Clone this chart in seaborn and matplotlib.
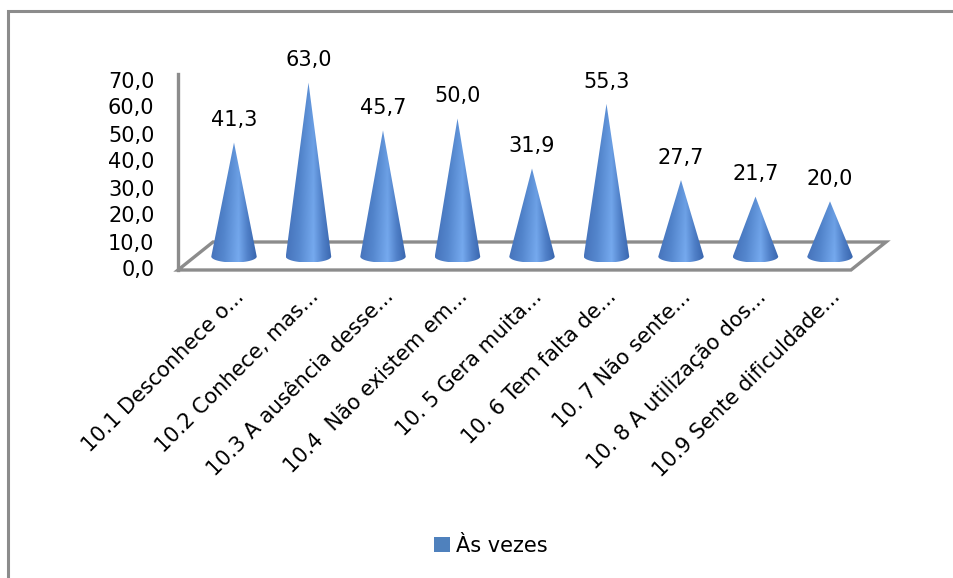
import numpy as np
import matplotlib
matplotlib.use("Agg")
import matplotlib.pyplot as plt
from matplotlib.colors import LinearSegmentedColormap
from matplotlib.patches import Polygon, Rectangle, Patch
import seaborn as sns
import pandas as pd

# ---- data -------------------------------------------------------------
categories = [
    "10.1 Desconhece o...",
    "10.2 Conhece, mas...",
    "10.3 A ausência desse...",
    "10.4  Não existem em...",
    "10. 5 Gera muita...",
    "10. 6 Tem falta de...",
    "10. 7 Não sente...",
    "10. 8 A utilização dos...",
    "10.9 Sente dificuldade...",
]
values = [41.3, 63.0, 45.7, 50.0, 31.9, 55.3, 27.7, 21.7, 20.0]
series_name = "Às vezes"
y_ticks = [0, 10, 20, 30, 40, 50, 60, 70]

# ---- figure / theme ---------------------------------------------------
sns.set_theme(style="white")
plt.rcParams["font.family"] = ["DejaVu Sans"]
plt.rcParams["text.color"] = "black"
plt.rcParams["xtick.color"] = "black"
plt.rcParams["ytick.color"] = "black"
FS = 15

W, H = 954, 578
fig = plt.figure(figsize=(W / 100, H / 100), dpi=100)

# plot box in pixels (from top-left)
L, R, T, B = 158, 900, 60, 285
ax = fig.add_axes([L / W, 1 - B / H, (R - L) / W, (B - T) / H])

# pixel scale of the pseudo-3D layout
X0, DX = 234.0, 74.5      # first category centre, spacing (px)
Y0, DY = 256.5, 2.76      # cone base line, px per unit
DEPTH_X, DEPTH_Y = 35.0, 28.0   # floor depth offset (px)

df = pd.DataFrame({"cat": categories, "val": values})
sns.barplot(data=df, x="cat", y="val", color="#4f81bd", width=0.61,
            ax=ax, zorder=3)

ax.set_xlim((L - X0) / DX, (R - X0) / DX)
ax.set_ylim((Y0 - B) / DY, (Y0 - T) / DY)
ax.set_xlabel("")
ax.set_ylabel("")

# ---- floor of the 3D plot --------------------------------------------
front_y = (Y0 - 270) / DY
back_y = front_y + DEPTH_Y / DY
front_left = (178 - X0) / DX
back_left = front_left + DEPTH_X / DX
front_right = (851 - X0) / DX
back_right = front_right + DEPTH_X / DX
floor = Polygon([(front_left, front_y), (back_left, back_y),
                 (back_right, back_y), (front_right, front_y)],
                closed=True, fill=False, edgecolor="#8c8c8c", lw=2.4,
                zorder=1, joinstyle="miter")

# ---- cones built from the bar geometry -------------------------------
cone_cmap = LinearSegmentedColormap.from_list(
    "cone", [(0.0, "#3865ad"), (0.28, "#4779c0"), (0.6, "#679be0"),
             (0.8, "#4373bb"), (1.0, "#2a579f")])
ell_h = 6.0 / DY
xs = np.linspace(0, 1, 200)
grad = np.tile(xs, (60, 1))
vert = np.linspace(0, 1, 60)[:, None, None]
bars = list(ax.patches)
ax.add_patch(floor)
for bar in bars:
    cx = bar.get_x() + bar.get_width() / 2
    hw = bar.get_width() / 2
    v = bar.get_height()
    bar.remove()
    t = np.linspace(np.pi, 2 * np.pi, 60)
    arc = np.column_stack([cx + hw * np.cos(t), ell_h * np.sin(t)])
    pts = np.vstack([[cx, v], arc])
    clip = Polygon(pts, closed=True, transform=ax.transData)
    img = cone_cmap(grad)
    # slightly lighter toward the base rim
    img[..., :3] = np.clip(img[..., :3] + 0.06 * vert, 0, 1)
    im = ax.imshow(img, extent=[cx - hw, cx + hw, -ell_h, v],
                   aspect="auto", origin="upper", zorder=3,
                   interpolation="bilinear")
    im.set_clip_path(clip)
    ax.annotate(f"{v:.1f}".replace(".", ","), (cx, v),
                xytext=(0, 16), textcoords="offset points",
                ha="center", va="center", fontsize=FS, color="black",
                annotation_clip=False)

ax.set_xlim((L - X0) / DX, (R - X0) / DX)
ax.set_ylim((Y0 - B) / DY, (Y0 - T) / DY)

# ---- axes: front vertical line with value ticks ----------------------
TICK_DY = 2.7
for s in ["top", "right", "bottom"]:
    ax.spines[s].set_visible(False)
ax.spines["left"].set_position(("data", front_left))
ax.spines["left"].set_color("#8c8c8c")
ax.spines["left"].set_linewidth(2.4)
ax.spines["left"].set_bounds(front_y, (Y0 - 74) / DY)
ax.set_yticks([(Y0 - (268.5 - TICK_DY * t)) / DY for t in y_ticks])
ax.set_yticklabels([f"{t:.1f}".replace(".", ",") for t in y_ticks],
                   fontsize=FS, color="black")
ax.tick_params(axis="y", length=0, pad=17)

ax.set_xticks(range(len(categories)))
ax.set_xticklabels(categories, rotation=45, ha="right",
                   rotation_mode="anchor", fontsize=FS, color="black")
ax.tick_params(axis="x", length=0, pad=1)
ax.grid(False)
ax.patch.set_alpha(0)

# ---- legend ------------------------------------------------------------
handle = Patch(facecolor="#4f81bd", edgecolor="none", label=series_name)
fig.legend(handles=[handle], loc="center", bbox_to_anchor=(491 / W, 1 - 546 / H),
           frameon=False, fontsize=FS, handlelength=0.75, handleheight=0.75,
           handletextpad=0.3, labelcolor="black")

# ---- chart border ------------------------------------------------------
fig.add_artist(Rectangle((8 / W, -0.1), 1.2, 1.1 - 11 / H,
                         transform=fig.transFigure, fill=False,
                         edgecolor="#8c8c8c", lw=2.2))

fig.savefig("out.png", dpi=100)
